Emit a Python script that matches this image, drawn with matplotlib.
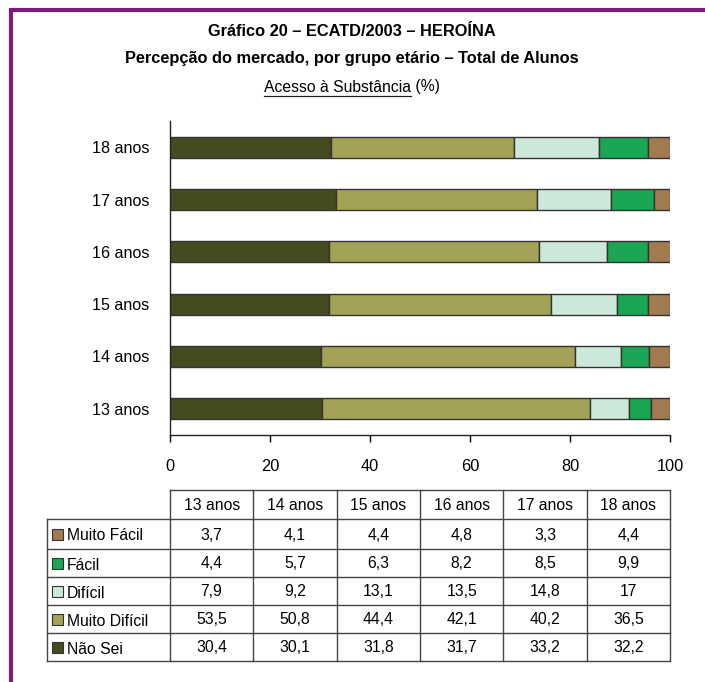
import numpy as np
import matplotlib
matplotlib.use("Agg")
import matplotlib.pyplot as plt
from matplotlib.patches import Rectangle

plt.rcParams["font.family"] = ["Liberation Sans", "DejaVu Sans"]

ages = ["13 anos", "14 anos", "15 anos", "16 anos", "17 anos", "18 anos"]
series = ["Não Sei", "Muito Difícil", "Difícil", "Fácil", "Muito Fácil"]
nao_sei       = [30.4, 30.1, 31.8, 31.7, 33.2, 32.2]
muito_dificil = [53.5, 50.8, 44.4, 42.1, 40.2, 36.5]
dificil       = [7.9, 9.2, 13.1, 13.5, 14.8, 17]
facil         = [4.4, 5.7, 6.3, 8.2, 8.5, 9.9]
muito_facil   = [3.7, 4.1, 4.4, 4.8, 3.3, 4.4]
values = [nao_sei, muito_dificil, dificil, facil, muito_facil]
colors = ["#464B1F", "#A3A257", "#CBE8D8", "#1AA652", "#A17A50"]

W, H = 705, 682
fig = plt.figure(figsize=(W / 100, H / 100), dpi=100)

# bar chart
ax = fig.add_axes([170 / W, 1 - 435 / H, 500 / W, 314 / H])
ypos = np.arange(len(ages))
left = np.zeros(len(ages))
for vals, c in zip(values, colors):
    ax.barh(ypos, vals, left=left, height=0.4, color=c,
            edgecolor="#333333", linewidth=1.0)
    left += np.array(vals)
ax.set_xlim(0, 100)
ax.set_ylim(-0.5, 5.5)
ax.set_yticks(ypos)
ax.set_yticklabels(ages, fontsize=11.6)
ax.tick_params(axis="y", length=0, pad=15)
ax.set_xticks([0, 20, 40, 60, 80, 100])
ax.tick_params(axis="x", length=5, width=1, pad=12, labelsize=11.8)
for s in ("top", "right"):
    ax.spines[s].set_visible(False)
for s in ("left", "bottom"):
    ax.spines[s].set_linewidth(1.0)
    ax.spines[s].set_color("#222222")

# overlay in pixel coordinates for frame, titles and table
ov = fig.add_axes([0, 0, 1, 1], zorder=-1)
ov.set_xlim(0, W)
ov.set_ylim(H, 0)
ov.axis("off")

purple = "#7E1A7E"
ov.plot([10, W], [9.5, 9.5], color=purple, lw=3, solid_capstyle="butt")
ov.plot([10.5, 10.5], [8, H], color=purple, lw=3, solid_capstyle="butt")

ov.text(352, 31, "Gráfico 20 – ECATD/2003 – HEROÍNA", ha="center", va="center",
        fontsize=11.8, weight="bold")
ov.text(352, 59, "Percepção do mercado, por grupo etário – Total de Alunos",
        ha="center", va="center", fontsize=11.8, weight="bold")
t1 = ov.text(352, 87, "Acesso à Substância", ha="right", va="center", fontsize=11.3)
t2 = ov.text(352, 87, " (%)", ha="left", va="center", fontsize=11.3)
fig.canvas.draw()
r = fig.canvas.get_renderer()
b1 = t1.get_window_extent(r)
b2 = t2.get_window_extent(r)
shift = (b1.width + b2.width) / 2 - b1.width
t1.set_x(352 - shift)
t2.set_x(352 - shift)
x0 = 352 - shift - b1.width
ov.plot([x0, 352 - shift], [95.5, 95.5], color="#222222", lw=0.9)

# data table
col_x = np.linspace(170, 670, len(ages) + 1)
row_y = [490, 519, 549, 577, 605, 633, 661]
lc = "#444444"
ov.plot([170, 670], [row_y[0], row_y[0]], color=lc, lw=1)
for yy in row_y[1:]:
    ov.plot([47, 670], [yy, yy], color=lc, lw=1)
for xx in col_x:
    ov.plot([xx, xx], [row_y[0], row_y[-1]], color=lc, lw=1)
ov.plot([47, 47], [row_y[1], row_y[-1]], color=lc, lw=1)
for i, a in enumerate(ages):
    ov.text((col_x[i] + col_x[i + 1]) / 2, (row_y[0] + row_y[1]) / 2 + 1, a,
            ha="center", va="center", fontsize=11.3)
rows = list(zip(series, values, colors))[::-1]
for j, (name, vals, c) in enumerate(rows):
    yc = (row_y[j + 1] + row_y[j + 2]) / 2 + 1
    ov.add_patch(Rectangle((52, yc - 6), 11, 11, facecolor=c,
                           edgecolor="#333333", lw=0.8))
    ov.text(67, yc + 1, name, ha="left", va="center", fontsize=11.3)
    for i, v in enumerate(vals):
        s = f"{v:g}".replace(".", ",")
        ov.text((col_x[i] + col_x[i + 1]) / 2, yc, s, ha="center",
                va="center", fontsize=11.3)

fig.savefig("out.png", dpi=100)
